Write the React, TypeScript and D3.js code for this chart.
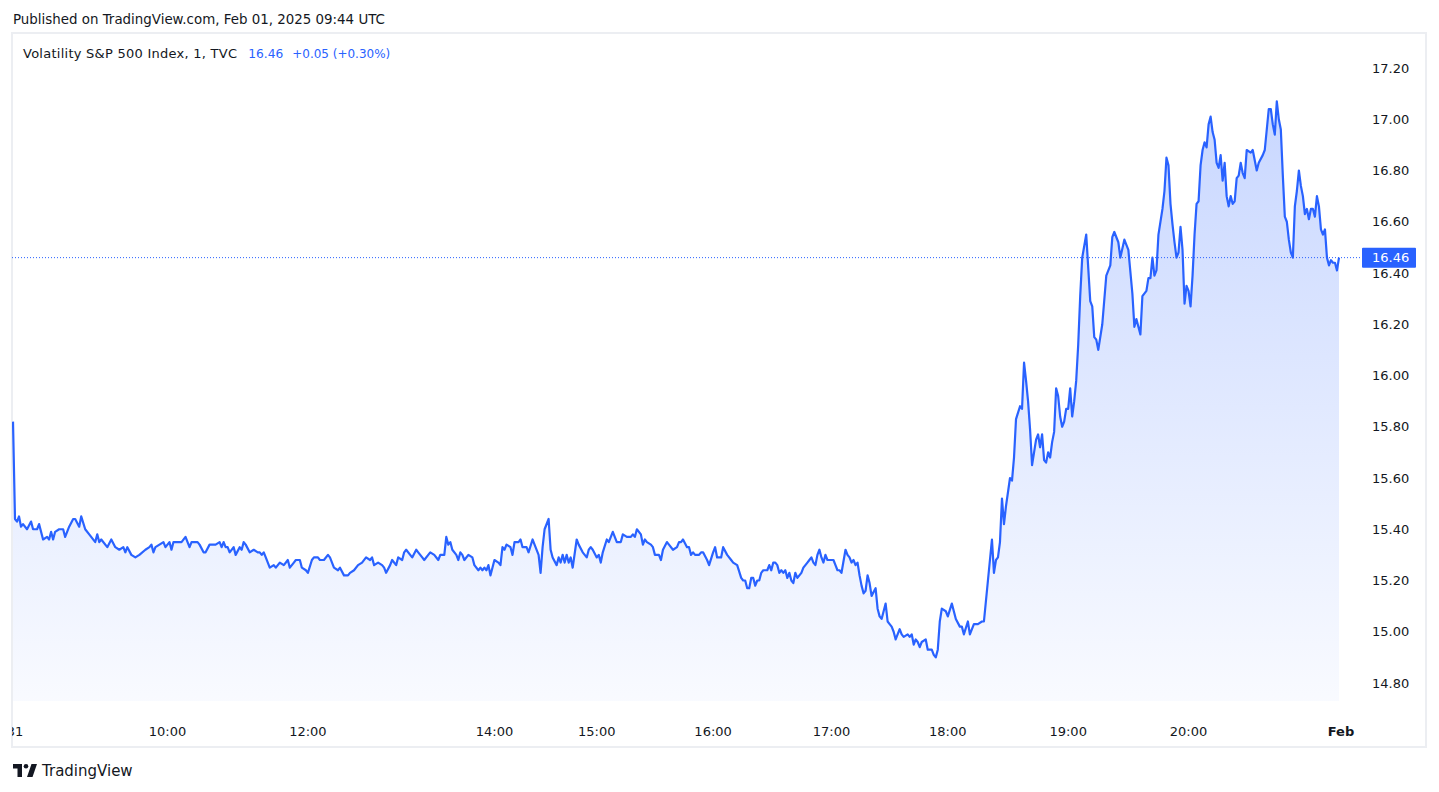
import * as d3 from "d3";

// bar index (1-minute bars) and close values
const bars = [
  0, 1, 2, 3, 4, 5, 7, 9, 10, 12, 13, 15, 17, 18, 19, 20, 21, 23, 25, 26, 28, 30, 31, 33, 34, 36, 38, 41, 42, 43, 44, 47, 49,
  51, 53, 55, 56, 57, 59, 61, 63, 66, 68, 69, 70, 71, 73, 75, 76, 78, 79, 80, 82, 84, 86, 88, 89, 92, 93, 95, 96, 98, 101,
  103, 104, 105, 106, 107, 108, 110, 111, 113, 114, 115, 116, 118, 120, 122, 123, 124, 125, 126, 128, 130, 131, 133, 135,
  137, 138, 140, 141, 143, 144, 146, 147, 149, 150, 152, 153, 155, 157, 158, 160, 162, 163, 165, 167, 168, 170, 172, 174,
  176, 178, 179, 180, 182, 184, 185, 186, 188, 189, 191, 192, 194, 195, 196, 198, 199, 201, 202, 203, 204, 205, 207, 208,
  210, 212, 213, 215, 216, 217, 218, 219, 221, 222, 223, 224, 225, 227, 229, 230, 232, 233, 234, 235, 236, 237, 238, 239,
  240, 242, 243, 244, 245, 246, 248, 249, 250, 252, 253, 254, 256, 257, 259, 260, 262, 263, 264, 265, 267, 268, 269, 271,
  272, 273, 274, 275, 276, 277, 278, 279, 281, 282, 284, 285, 286, 287, 288, 289, 291, 292, 293, 294, 296, 297, 299, 301,
  303, 304, 306, 308, 309, 310, 311, 313, 314, 315, 316, 318, 319, 320, 322, 323, 324, 326, 327, 329, 331, 332, 333, 334,
  336, 337, 338, 339, 340, 342, 343, 344, 346, 347, 349, 350, 351, 353, 354, 356, 358, 359, 361, 363, 364, 365, 366, 367,
  368, 369, 370, 371, 372, 373, 374, 376, 377, 378, 379, 380, 381, 382, 383, 384, 385, 386, 387, 388, 389, 390, 391, 393,
  394, 396, 397, 398, 399, 400, 401, 402, 403, 404, 405, 406, 407, 409, 410, 411, 412, 413, 415, 416, 417, 418, 419, 420,
  421, 422, 423, 424, 425, 426, 427, 428, 430, 431, 432, 433, 435, 436, 437, 438, 439, 440, 442, 443, 444, 446, 447, 448,
  449, 450, 451, 452, 453, 455, 456, 458, 459, 460, 461, 462, 463, 465, 466, 468, 469, 470, 472, 473, 474, 476, 477, 479,
  481, 483, 484, 486, 488, 489, 490, 491, 492, 493, 494, 495, 497, 498, 499, 500, 502, 503, 504, 505, 506, 507, 508, 509,
  510, 511, 512, 513, 514, 515, 516, 517, 518, 519, 520, 521, 522, 523, 524, 525, 526, 527, 528, 529, 530, 531, 532, 533,
  535, 536, 537, 538, 539, 540, 541, 543, 545, 547, 548, 549, 551, 552, 554, 556, 558, 559, 560, 561, 562, 563, 565, 566,
  567, 568, 569, 570, 571, 573, 574, 575, 576, 577, 578, 579, 580, 581, 582, 583, 584, 585, 586, 587, 588, 589, 590, 591,
  592, 593, 594, 595, 596, 597, 598, 599, 600, 601, 602, 603, 604, 605, 606, 607, 608, 609, 610, 611, 612, 613, 614, 615,
  617, 618, 620, 621, 623, 624, 625, 626, 627, 628, 629, 630, 631, 632, 633, 634, 635, 636, 637, 638, 639, 640, 641, 642,
  643, 644, 645, 646, 647, 648, 649, 650, 651, 652, 653, 654, 655, 656, 657, 658, 659, 660, 661,
];

const closes = [
  15.82, 15.44, 15.43, 15.45, 15.41, 15.42, 15.4, 15.43, 15.4, 15.4, 15.42, 15.36, 15.37, 15.36, 15.39, 15.36, 15.39, 15.4,
  15.4, 15.37, 15.41, 15.44, 15.44, 15.41, 15.45, 15.4, 15.38, 15.35, 15.38, 15.35, 15.36, 15.33, 15.36, 15.33, 15.32,
  15.33, 15.31, 15.33, 15.3, 15.29, 15.3, 15.32, 15.33, 15.34, 15.31, 15.33, 15.34, 15.35, 15.33, 15.35, 15.32, 15.35,
  15.35, 15.35, 15.37, 15.33, 15.35, 15.35, 15.34, 15.31, 15.31, 15.34, 15.34, 15.35, 15.33, 15.35, 15.33, 15.33, 15.31,
  15.33, 15.3, 15.33, 15.32, 15.35, 15.34, 15.31, 15.32, 15.31, 15.31, 15.3, 15.31, 15.29, 15.25, 15.26, 15.25, 15.27,
  15.26, 15.28, 15.25, 15.27, 15.28, 15.28, 15.25, 15.24, 15.23, 15.28, 15.29, 15.29, 15.28, 15.28, 15.3, 15.29, 15.25,
  15.24, 15.25, 15.22, 15.22, 15.23, 15.24, 15.26, 15.27, 15.29, 15.28, 15.29, 15.26, 15.27, 15.26, 15.25, 15.23, 15.26,
  15.28, 15.26, 15.29, 15.28, 15.31, 15.32, 15.3, 15.29, 15.32, 15.31, 15.3, 15.29, 15.28, 15.3, 15.31, 15.3, 15.28, 15.3,
  15.3, 15.37, 15.34, 15.35, 15.32, 15.3, 15.28, 15.31, 15.3, 15.28, 15.3, 15.29, 15.26, 15.24, 15.25, 15.24, 15.25, 15.24,
  15.26, 15.22, 15.25, 15.28, 15.27, 15.26, 15.33, 15.32, 15.34, 15.33, 15.3, 15.35, 15.35, 15.36, 15.33, 15.33, 15.31,
  15.36, 15.34, 15.3, 15.23, 15.33, 15.4, 15.44, 15.32, 15.29, 15.26, 15.29, 15.27, 15.3, 15.27, 15.3, 15.27, 15.29, 15.25,
  15.36, 15.34, 15.31, 15.3, 15.29, 15.32, 15.33, 15.32, 15.29, 15.3, 15.27, 15.31, 15.36, 15.35, 15.39, 15.35, 15.35,
  15.38, 15.37, 15.37, 15.38, 15.37, 15.4, 15.38, 15.34, 15.36, 15.35, 15.34, 15.33, 15.3, 15.3, 15.28, 15.32, 15.35,
  15.34, 15.32, 15.33, 15.35, 15.35, 15.36, 15.33, 15.33, 15.3, 15.31, 15.3, 15.3, 15.31, 15.31, 15.28, 15.26, 15.31,
  15.33, 15.29, 15.29, 15.33, 15.3, 15.28, 15.27, 15.26, 15.21, 15.2, 15.2, 15.17, 15.17, 15.21, 15.21, 15.18, 15.2, 15.2,
  15.23, 15.24, 15.24, 15.26, 15.24, 15.27, 15.27, 15.26, 15.23, 15.24, 15.23, 15.24, 15.21, 15.23, 15.2, 15.19, 15.23,
  15.21, 15.23, 15.25, 15.27, 15.28, 15.29, 15.27, 15.26, 15.3, 15.32, 15.29, 15.27, 15.3, 15.28, 15.28, 15.28, 15.26,
  15.24, 15.24, 15.23, 15.32, 15.3, 15.29, 15.27, 15.28, 15.26, 15.27, 15.22, 15.18, 15.15, 15.16, 15.22, 15.19, 15.14,
  15.17, 15.09, 15.06, 15.05, 15.11, 15.04, 15.03, 15.02, 15.0, 14.97, 15.01, 14.99, 14.98, 14.99, 14.98, 14.99, 14.95,
  14.97, 14.96, 14.94, 14.96, 14.97, 14.93, 14.93, 14.91, 14.9, 14.93, 15.04, 15.09, 15.08, 15.06, 15.11, 15.08, 15.05,
  15.02, 15.02, 14.99, 15.04, 14.99, 15.03, 15.03, 15.04, 15.04, 15.2, 15.36, 15.23, 15.28, 15.29, 15.35, 15.52, 15.42,
  15.49, 15.6, 15.59, 15.68, 15.83, 15.88, 15.87, 16.05, 15.98, 15.9, 15.79, 15.65, 15.7, 15.75, 15.77, 15.72, 15.77,
  15.67, 15.66, 15.7, 15.68, 15.74, 15.78, 15.95, 15.92, 15.84, 15.8, 15.82, 15.87, 15.87, 15.95, 15.84, 15.9, 15.98,
  16.12, 16.31, 16.46, 16.55, 16.42, 16.29, 16.27, 16.15, 16.14, 16.1, 16.2, 16.39, 16.43, 16.54, 16.56, 16.52, 16.46,
  16.53, 16.49, 16.32, 16.19, 16.22, 16.19, 16.16, 16.31, 16.33, 16.38, 16.38, 16.46, 16.39, 16.41, 16.55, 16.65, 16.72,
  16.85, 16.82, 16.67, 16.59, 16.52, 16.46, 16.48, 16.58, 16.49, 16.28, 16.35, 16.33, 16.27, 16.39, 16.55, 16.67, 16.68,
  16.82, 16.88, 16.91, 16.89, 16.98, 17.01, 16.95, 16.92, 16.83, 16.81, 16.86, 16.76, 16.83, 16.7, 16.66, 16.7, 16.67,
  16.68, 16.77, 16.78, 16.83, 16.79, 16.77, 16.88, 16.87, 16.88, 16.8, 16.83, 16.86, 16.88, 16.96, 17.04, 17.04, 16.98,
  16.94, 17.07, 17.0, 16.96, 16.78, 16.62, 16.6, 16.53, 16.48, 16.46, 16.66, 16.72, 16.8, 16.74, 16.7, 16.63, 16.65,
  16.61, 16.65, 16.65, 16.62, 16.7, 16.66, 16.57, 16.55, 16.57, 16.46, 16.43, 16.45, 16.44, 16.44, 16.41, 16.46,
];

// time axis labels and the bar they sit on
const tickLabels = ["31", "10:00", "12:00", "14:00", "15:00", "16:00", "17:00", "18:00", "19:00", "20:00", "Feb"];
const tickBars = [1, 77, 147, 240, 291, 349, 408, 466, 526, 586, 662];
const boldTicks = ["Feb"];

const lastPrice = 16.46;
const change = "+0.05 (+0.30%)";

const W = 1439;
const H = 792;
const frame = { left: 12, top: 33, right: 1426, bottom: 747 };
const pane = { left: 12, right: 1340, top: 34, bottom: 701 };
const BLUE = "#2962ff";
const TEXT = "#131722";
const FONT = "'DejaVu Sans', sans-serif";

export default function App() {
  const series = bars.map((b, i) => ({ bar: b, close: closes[i] }));

  const x = d3.scaleLinear().domain([0, 662]).range([13, 1341]);
  const y = d3.scaleLinear().domain([14.8, 17.2]).range([683, 68]);
  const yTicks = y.ticks(12);

  const line = d3
    .line<{ bar: number; close: number }>()
    .x((d) => x(d.bar))
    .y((d) => y(d.close));

  const area = d3
    .area<{ bar: number; close: number }>()
    .x((d) => x(d.bar))
    .y0(pane.bottom)
    .y1((d) => y(d.close));

  const lastY = y(lastPrice);

  return (
    <svg
      width={W}
      height={H}
      style={{ position: "absolute", left: 0, top: 0, background: "#fff" }}
      fontFamily={FONT}
    >
      <defs>
        <linearGradient id="fillGrad" gradientUnits="userSpaceOnUse" x1="0" y1={pane.top} x2="0" y2={pane.bottom}>
          <stop offset="0%" stopColor={BLUE} stopOpacity={0.28} />
          <stop offset="100%" stopColor={BLUE} stopOpacity={0.03} />
        </linearGradient>
        <clipPath id="paneClip">
          <rect x={pane.left} y={pane.top} width={pane.right - pane.left} height={pane.bottom - pane.top} />
        </clipPath>
        <clipPath id="timeClip">
          <rect x={frame.left} y={pane.bottom} width={pane.right + 40 - frame.left} height={frame.bottom - pane.bottom} />
        </clipPath>
      </defs>

      {/* header */}
      <text x={13} y={24} fontSize={13.4} fill={TEXT}>
        Published on TradingView.com, Feb 01, 2025 09:44 UTC
      </text>

      {/* outer frame */}
      <rect
        x={frame.left}
        y={frame.top}
        width={frame.right - frame.left}
        height={frame.bottom - frame.top}
        fill="none"
        stroke="#eceef2"
        strokeWidth={2}
      />

      {/* series */}
      <g clipPath="url(#paneClip)">
        <path d={area(series) ?? ""} fill="url(#fillGrad)" />
        <path d={line(series) ?? ""} fill="none" stroke={BLUE} strokeWidth={2.2} strokeLinejoin="round" />
      </g>

      {/* last price line */}
      <line x1={pane.left} x2={1362} y1={lastY} y2={lastY} stroke={BLUE} strokeWidth={1} strokeDasharray="1 2" />

      {/* legend */}
      <text x={23} y={58} fontSize={13} fill={TEXT}>
        <tspan textLength={214} lengthAdjust="spacing">Volatility S&amp;P 500 Index, 1, TVC</tspan>
        <tspan dx={11} fill={BLUE} textLength={35} lengthAdjust="spacingAndGlyphs">{lastPrice.toFixed(2)}</tspan>
        <tspan dx={9} fill={BLUE} textLength={98} lengthAdjust="spacingAndGlyphs">{change}</tspan>
      </text>

      {/* price axis */}
      <g fontSize={13} fill={TEXT}>
        {yTicks.map((t) => (
          <text key={t} x={1372} y={y(t)} dy="0.35em">
            {d3.format(".2f")(t)}
          </text>
        ))}
      </g>
      <rect x={1362} y={lastY - 10} width={54} height={20} fill={BLUE} rx={1} />
      <text x={1372} y={lastY} dy="0.35em" fontSize={13} fill="#fff">
        {lastPrice.toFixed(2)}
      </text>

      {/* time axis */}
      <g clipPath="url(#timeClip)" fontSize={13} fill={TEXT}>
        {tickLabels.map((l, i) => (
          <text
            key={l}
            x={x(tickBars[i])}
            y={731}
            dy="0.35em"
            textAnchor="middle"
            fontWeight={boldTicks.includes(l) ? "bold" : "normal"}
          >
            {l}
          </text>
        ))}
      </g>

      {/* logo */}
      <g fill={TEXT}>
        <path d="M13 764 H22 V777 H17.5 V768.5 H13 Z" />
        <circle cx={26} cy={766.3} r={2.3} />
        <path d="M31.5 764 H37 L32.5 777 H27 Z" />
      </g>
      <text x={42} y={776} fontSize={15} fill={TEXT}>
        TradingView
      </text>
    </svg>
  );
}
